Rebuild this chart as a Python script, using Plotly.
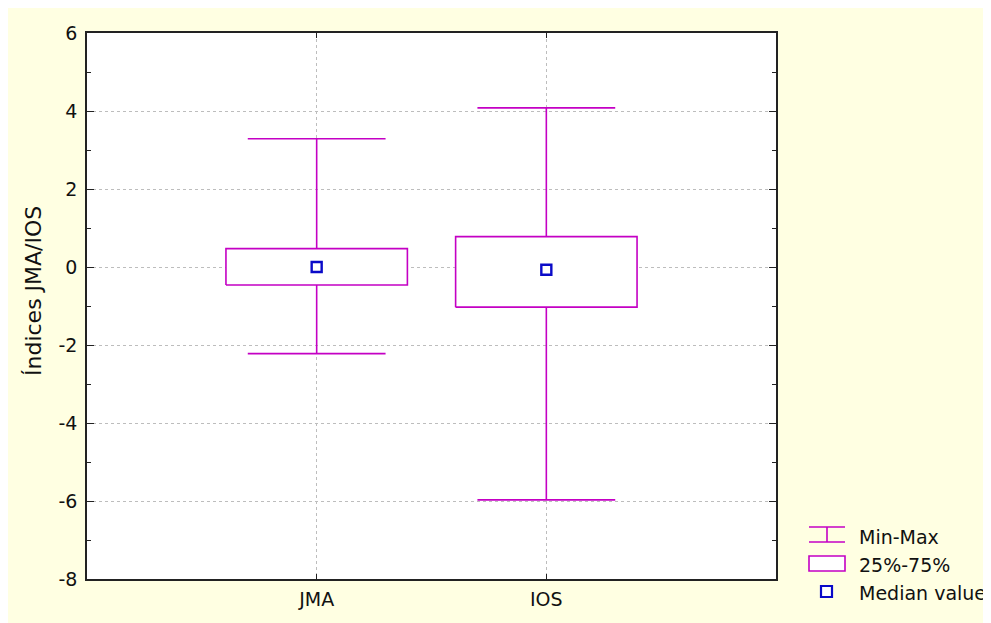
import plotly.graph_objects as go

categories = ["JMA", "IOS"]
mins = [-2.22, -5.97]
q1 = [-0.46, -1.03]
medians = [0.0, -0.07]
q3 = [0.47, 0.78]
maxs = [3.29, 4.08]
y_ticks = [-8, -6, -4, -2, 0, 2, 4, 6]
legend_labels = ["Min-Max", "25%-75%", "Median value"]
y_title = "Índices JMA/IOS"

MAG = "#C400C4"
BLUE = "#0A0AC8"
CREAM = "#FFFFE2"
FONT = "DejaVu Sans, Verdana, sans-serif"

OX, OY = 8, 8                 # page body offset
W, H = 983, 615
L, R, T, B = 79, 215, 25, 44
PW, PH = W - L - R, H - T - B


def px(x):
    return (x - OX - L) / PW


def py(y):
    return (H - B - (y - OY)) / PH


fig = go.Figure()
box_half = 0.395
cap_half = 0.3
for i, cat in enumerate(categories):
    xs = [i, i, None, i, i, None,
          i - cap_half, i + cap_half, None, i - cap_half, i + cap_half]
    ys = [q3[i], maxs[i], None, q1[i], mins[i], None,
          maxs[i], maxs[i], None, mins[i], mins[i]]
    fig.add_trace(go.Scatter(x=xs, y=ys, mode="lines",
                             line=dict(color=MAG, width=1.6),
                             showlegend=False, hoverinfo="skip"))
    fig.add_trace(go.Scatter(
        x=[i - box_half, i + box_half, i + box_half, i - box_half, i - box_half],
        y=[q1[i], q1[i], q3[i], q3[i], q1[i]],
        mode="lines", fill="toself", fillcolor="white",
        line=dict(color=MAG, width=1.6), showlegend=False, hoverinfo="skip"))
    fig.add_trace(go.Scatter(
        x=[i], y=[medians[i]], mode="markers",
        marker=dict(symbol="square-open", size=10, color=BLUE,
                    line=dict(width=2.4, color=BLUE)),
        showlegend=False, name=cat))

axis_common = dict(showline=True, linecolor="#222222", linewidth=1.5, mirror="allticks",
                   ticks="inside", tickcolor="#222222", zeroline=False,
                   showgrid=True, gridcolor="#BDBDBD", griddash="dot", gridwidth=1,
                   tickfont=dict(family=FONT, size=19, color="#111111"))

fig.update_xaxes(range=[-1, 2], tickvals=list(range(len(categories))),
                 ticktext=categories, ticklen=5, ticklabelstandoff=2, **axis_common)
fig.update_yaxes(range=[-8, 6], tickvals=y_ticks, ticktext=[str(v) for v in y_ticks],
                 ticklen=7,
                 minor=dict(dtick=1, ticks="inside", ticklen=4, tickcolor="#222222",
                            showgrid=False),
                 ticklabelstandoff=4, **axis_common)

shapes = [
    dict(type="line", xref="paper", yref="paper", x0=px(809), x1=px(845), y0=py(527), y1=py(527),
         line=dict(color=MAG, width=1.6)),
    dict(type="line", xref="paper", yref="paper", x0=px(809), x1=px(845), y0=py(542), y1=py(542),
         line=dict(color=MAG, width=1.6)),
    dict(type="line", xref="paper", yref="paper", x0=px(827), x1=px(827), y0=py(527), y1=py(542),
         line=dict(color=MAG, width=1.6)),
    dict(type="rect", xref="paper", yref="paper", x0=px(809), x1=px(845), y0=py(571), y1=py(556),
         fillcolor="white", line=dict(color=MAG, width=1.6)),
    dict(type="rect", xref="paper", yref="paper", x0=px(821), x1=px(832), y0=py(597), y1=py(586),
         fillcolor="white", line=dict(color=BLUE, width=2.2)),
]

annotations = [
    dict(text=y_title, xref="paper", yref="paper", x=px(33), y=py(291),
         textangle=-90, showarrow=False, xanchor="center", yanchor="middle",
         font=dict(family=FONT, size=22, color="#111111")),
]
for lbl, yc in zip(legend_labels, [537, 565, 593]):
    annotations.append(dict(text=lbl, xref="paper", yref="paper", x=px(857), y=py(yc),
                            showarrow=False, xanchor="left", yanchor="middle",
                            font=dict(family=FONT, size=19, color="#111111")))

fig.update_layout(width=W, height=H, margin=dict(l=L, r=R, t=T, b=B),
                  paper_bgcolor=CREAM, plot_bgcolor="white",
                  showlegend=False, shapes=shapes, annotations=annotations)

fig.write_html("out.html")
